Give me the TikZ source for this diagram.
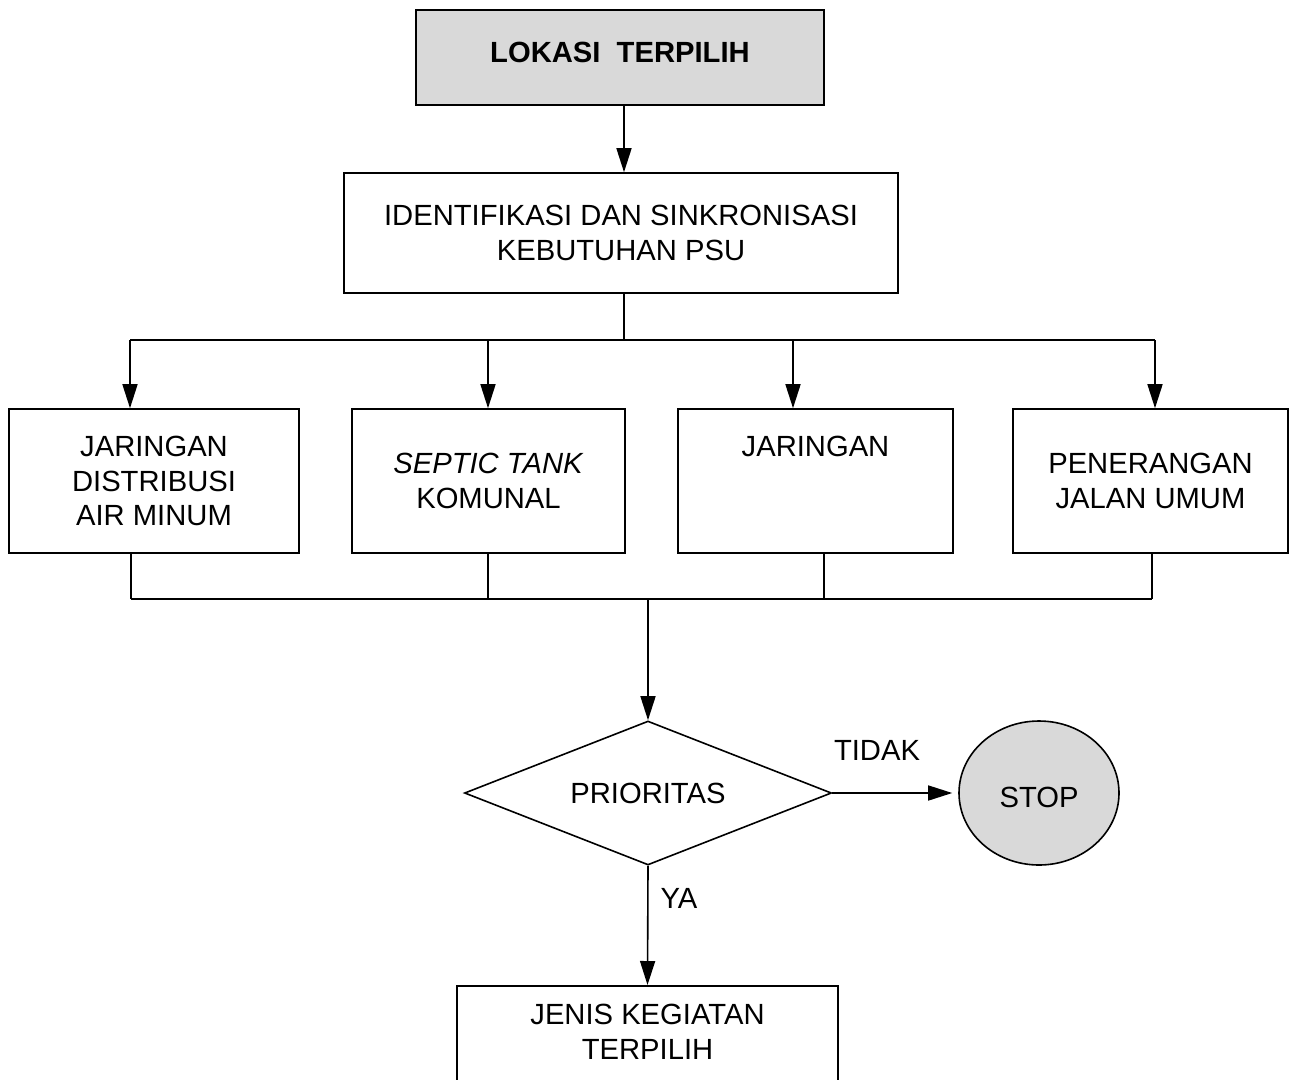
\documentclass[tikz,border=0pt]{standalone}
\usepackage{fontspec}
\setmainfont{Liberation Sans}
\usetikzlibrary{arrows.meta,shapes.geometric}
\definecolor{boxgray}{RGB}{217,217,217}
\tikzset{
  lbl/.style={font=\fontsize{29.2}{34.5}\selectfont, align=center, inner sep=0pt},
  stepbox/.style={lbl, draw, line width=1.6pt, rectangle},
  conn/.style={line width=1.6pt},
  arr/.style={conn, -{Triangle[length=24pt,width=15pt]}},
}
\begin{document}
\begin{tikzpicture}[x=1pt,y=1pt]
\useasboundingbox (0,0) rectangle (1292,-1079);
% nodes
\node[stepbox, fill=boxgray, minimum width=408, minimum height=95] (top) at (620,-57.5) {\textbf{LOKASI\ \ TERPILIH}\\[-24pt]\mbox{}};
\node[stepbox, minimum width=554, minimum height=120] (ident) at (621,-233) {IDENTIFIKASI DAN SINKRONISASI\\KEBUTUHAN PSU};
\node[stepbox, minimum width=290, minimum height=144] (b1) at (154,-481) {JARINGAN\\DISTRIBUSI\\AIR MINUM};
\node[stepbox, minimum width=273, minimum height=144] (b2) at (488.5,-481) {\textit{SEPTIC TANK}\\KOMUNAL};
\node[stepbox, minimum width=275, minimum height=144] (b3) at (815.5,-481) {JARINGAN\\\mbox{}\\\mbox{}};
\node[stepbox, minimum width=275, minimum height=144] (b4) at (1150.5,-481) {PENERANGAN\\JALAN UMUM};
\node[lbl, draw, line width=1.6pt, diamond, aspect=2.55, minimum width=367, minimum height=144] (dia) at (648,-793) {PRIORITAS};
\node[font=\fontsize{29.2}{34.5}\selectfont, inner sep=0pt, text height=29pt, text depth=0pt, draw, line width=1.6pt, ellipse, fill=boxgray, minimum width=160, minimum height=144] (stop) at (1039,-793) {STOP};
\node[stepbox, anchor=north, minimum width=381, minimum height=100] (jenis) at (647.5,-985) {JENIS KEGIATAN\\TERPILIH\\[-26.5pt]\mbox{}};
\node[lbl] (tidak) at (877,-750) {TIDAK};
\node[lbl] (ya) at (679,-898) {YA};
% junction coordinates
\coordinate (bt) at (624,-340);
\coordinate (t1) at (130,-340);
\coordinate (t2) at (488,-340);
\coordinate (t3) at (793,-340);
\coordinate (t4) at (1155,-340);
\coordinate (u1) at (131,-599);
\coordinate (u2) at (488,-599);
\coordinate (u3) at (824,-599);
\coordinate (u4) at (1152,-599);
\coordinate (bb) at (648,-599);
% connectors
\draw[arr] (top.south -| 624,0) -- (ident.north -| 624,0);
\draw[conn] (ident.south -| bt) -- (bt);
\draw[conn] (t1) -- (t4);
\draw[arr] (t1) -- (t1 |- b1.north);
\draw[arr] (t2) -- (t2 |- b2.north);
\draw[arr] (t3) -- (t3 |- b3.north);
\draw[arr] (t4) -- (t4 |- b4.north);
\draw[conn] (u1 |- b1.south) -- (u1);
\draw[conn] (u2 |- b2.south) -- (u2);
\draw[conn] (u3 |- b3.south) -- (u3);
\draw[conn] (u4 |- b4.south) -- (u4);
\draw[conn] (u1) -- (u4);
\draw[arr] (bb) -- (dia.north);
\draw[arr, shorten >=6pt] (dia.east) -- (stop.west);
\draw[arr] (dia.south) -- (jenis.north);
\end{tikzpicture}
\end{document}
